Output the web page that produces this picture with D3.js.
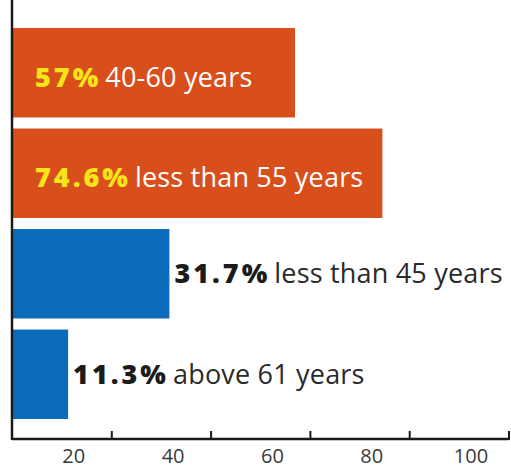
<!DOCTYPE html>
<html>
<head>
<meta charset="utf-8">
<script src="https://cdn.jsdelivr.net/npm/d3@7"></script>
<style>
  html, body { margin: 0; padding: 0; background: #fff; }
  svg { display: block; }
</style>
</head>
<body>
<svg id="chart" width="511" height="469"></svg>
<script>
const categories = ["40-60 years", "less than 55 years", "less than 45 years", "above 61 years"];
const values = [57, 74.6, 31.7, 11.3];
const valueLabels = ["57%", "74.6%", "31.7%", "11.3%"];
const groups = ["orange", "orange", "blue", "blue"];
const tickValues = [20, 40, 60, 80, 100];

const svg = d3.select("#chart");
const x = d3.scaleLinear().domain([0, 100]).range([12, 508.5]);
const y = d3.scaleBand().domain(d3.range(categories.length)).range([28, 419]).paddingInner(0.11).paddingOuter(0);
const color = d3.scaleOrdinal().domain(["orange", "blue"]).range(["#D94F1B", "#0A6CBB"]);
const axisY = 439;

const data = categories.map((c, i) => ({ c, v: values[i], lab: valueLabels[i], g: groups[i], i }));

svg.selectAll("rect.bar").data(data).join("rect")
  .attr("class", "bar")
  .attr("x", x(0))
  .attr("y", d => y(d.i))
  .attr("width", d => x(d.v) - x(0))
  .attr("height", y.bandwidth())
  .attr("fill", d => color(d.g));

const labels = svg.selectAll("text.lab").data(data).join("text")
  .attr("class", "lab")
  .attr("x", d => d.g === "orange" ? 35 : x(d.v) + 5)
  .attr("y", d => y(d.i) + y.bandwidth() / 2 + (d.g === "orange" ? 14 : 9.5))
  .style("font-family", "'Open Sans', sans-serif")
  .style("font-size", "27px");
labels.append("tspan")
  .text(d => d.lab)
  .style("font-weight", 800)
  .style("letter-spacing", "3px")
  .attr("fill", d => d.g === "orange" ? "#F7E51A" : "#1b1b1b");
labels.append("tspan")
  .text(d => d.c)
  .attr("dx", 4)
  .style("font-weight", 400)
  .style("letter-spacing", "0.2px")
  .attr("fill", d => d.g === "orange" ? "#FFFFFF" : "#2a2a2a");

// x axis
const xAxis = d3.axisBottom(x).tickValues(tickValues).tickSize(8).tickSizeOuter(0);
const gx = svg.append("g").attr("transform", `translate(0,${axisY})`).call(xAxis);
gx.select(".domain").attr("stroke", "#1a1a1a").attr("stroke-width", 2.5)
  .attr("d", `M${x(0)},0H${x(100)}`);
gx.selectAll(".tick line").attr("stroke", "#1a1a1a").attr("stroke-width", 2).attr("y1", -8).attr("y2", 1);
gx.selectAll(".tick text")
  .attr("dx", -38)
  .attr("y", 24)
  .attr("dy", 0)
  .attr("fill", "#3a3a3a")
  .style("font-family", "'Open Sans', sans-serif")
  .style("font-size", "20px");

// y axis line
svg.append("line")
  .attr("x1", x(0)).attr("x2", x(0))
  .attr("y1", 0).attr("y2", axisY + 1)
  .attr("stroke", "#1a1a1a").attr("stroke-width", 2.5);
</script>
</body>
</html>
